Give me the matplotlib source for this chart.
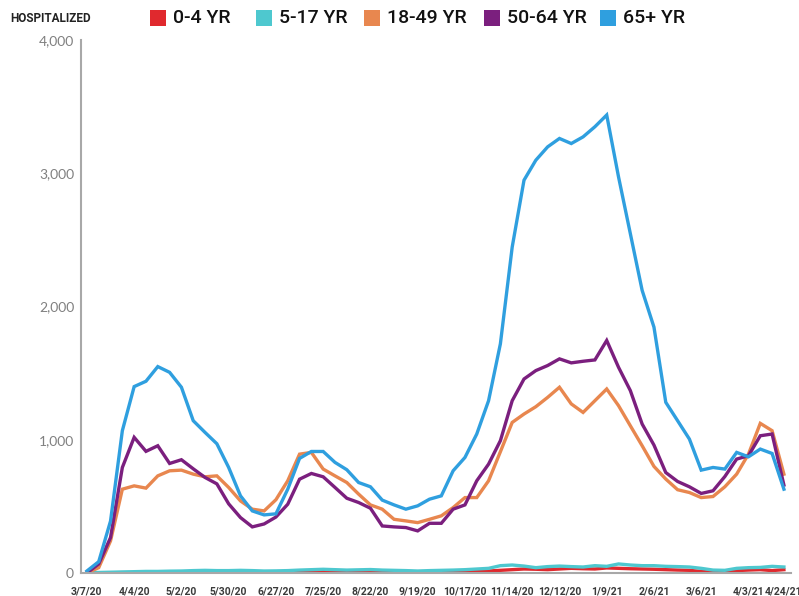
import matplotlib
matplotlib.use("Agg")
import matplotlib.pyplot as plt
from matplotlib.patches import Rectangle

plt.rcParams['font.family'] = ['Roboto', 'DejaVu Sans']

weeks = list(range(60))
tick_idx = [0, 4, 8, 12, 16, 20, 24, 28, 32, 36, 40, 44, 48, 52, 56, 59]
tick_labels = ["3/7/20", "4/4/20", "5/2/20", "5/30/20", "6/27/20", "7/25/20",
               "8/22/20", "9/19/20", "10/17/20", "11/14/20", "12/12/20",
               "1/9/21", "2/6/21", "3/6/21", "4/3/21", "4/24/21"]

age_0_4 = [0, 1, 2, 3, 3, 4, 5, 5, 4, 5,
           6, 5, 4, 4, 3, 3, 4, 6, 8, 10,
           12, 10, 8, 8, 9, 10, 8, 6, 5, 5,
           6, 8, 10, 12, 15, 20, 25, 30, 28, 25,
           30, 35, 32, 30, 38, 35, 32, 30, 28, 25,
           22, 20, 12, 5, 12, 18, 22, 25, 18, 25]
age_5_17 = [2, 4, 6, 8, 10, 12, 12, 14, 15, 18,
            20, 18, 18, 20, 18, 15, 16, 18, 22, 25,
            28, 25, 22, 24, 26, 22, 20, 18, 15, 18,
            20, 22, 25, 30, 35, 55, 60, 52, 40, 48,
            52, 48, 45, 55, 50, 68, 60, 55, 55, 50,
            48, 45, 35, 22, 20, 35, 40, 42, 50, 45]
age_18_49 = [0, 40, 241, 629, 654, 637, 729, 767, 772, 742,
             722, 729, 642, 541, 479, 466, 550, 692, 892, 905,
             780, 729, 679, 592, 511, 479, 403, 391, 378, 403,
             429, 491, 566, 566, 692, 910, 1130, 1193, 1248, 1318,
             1394, 1269, 1205, 1293, 1381, 1256, 1105, 955, 800, 705,
             625, 604, 566, 574, 647, 742, 892, 1123, 1068, 742]
age_50_64 = [0, 68, 266, 792, 1018, 913, 955, 822, 850, 782,
             717, 669, 519, 416, 346, 368, 420, 516, 704, 747,
             722, 642, 561, 529, 486, 353, 346, 341, 316, 373,
             373, 479, 511, 692, 817, 993, 1293, 1456, 1519, 1557,
             1607, 1577, 1589, 1599, 1745, 1544, 1369, 1118, 960, 754,
             687, 647, 597, 617, 724, 855, 880, 1030, 1043, 660]
age_65_plus = [15, 85, 390, 1068, 1399, 1439, 1549, 1506, 1394, 1143,
               1055, 970, 792, 579, 466, 436, 444, 629, 860, 912,
               912, 830, 775, 679, 647, 547, 511, 479, 504, 554,
               579, 767, 867, 1043, 1293, 1720, 2446, 2948, 3098, 3198,
               3261, 3223, 3273, 3349, 3437, 2973, 2547, 2121, 1845, 1281,
               1143, 1005, 772, 792, 780, 905, 872, 930, 897, 629]

series_names = ["0-4 YR", "5-17 YR", "18-49 YR", "50-64 YR", "65+ YR"]
series_vals = [age_0_4, age_5_17, age_18_49, age_50_64, age_65_plus]
colors = ["#e0292e", "#4ec8cf", "#e8874f", "#7b1f7e", "#2f9fdf"]

W, H = 799, 596
fig = plt.figure(figsize=(W / 100, H / 100), dpi=100)
ax = fig.add_axes([81 / W, 23 / H, (791 - 81) / W, (573 - 40) / H])

for vals, c in zip(series_vals, colors):
    ax.plot(weeks, vals, color=c, lw=2.4, solid_joinstyle='miter')

ax.set_xlim(-0.5, 59.6)
ax.set_ylim(0, 4000)
ax.set_yticks([0, 1000, 2000, 3000, 4000])
ax.set_yticklabels(["0", "1,000", "2,000", "3,000", "4,000"])
ax.set_xticks(tick_idx)
ax.set_xticklabels(tick_labels)

for s in ['top', 'right']:
    ax.spines[s].set_visible(False)
for s in ['left', 'bottom']:
    ax.spines[s].set_color('#a8a8a8')
    ax.spines[s].set_linewidth(1.5)

ax.tick_params(axis='y', length=0, pad=5, labelsize=10, labelcolor='#808080')
ax.tick_params(axis='x', length=0, pad=10, labelsize=7.5, labelcolor='#3a3a3a')
for lab in ax.get_xticklabels():
    lab.set_fontweight('bold')
for lab in ax.get_yticklabels():
    lab.set_fontfamily(['Lato', 'DejaVu Sans'])

# header legend
fig.text(10 / W, 1 - 18 / H, "HOSPITALIZED", fontsize=8.5, fontweight='bold',
         color='#222222', ha='left', va='center')
sq_x = [150, 256, 364, 484, 600]
for x0, name, c in zip(sq_x, series_names, colors):
    fig.patches.append(Rectangle((x0 / W, 1 - 26 / H), 16 / W, 16 / H,
                                 transform=fig.transFigure, facecolor=c,
                                 edgecolor='none'))
    fig.text((x0 + 23) / W, 1 - 18 / H, name, fontsize=14, fontweight='medium',
             color='#111111', ha='left', va='center')

fig.savefig("out.png", dpi=100, facecolor='white')
